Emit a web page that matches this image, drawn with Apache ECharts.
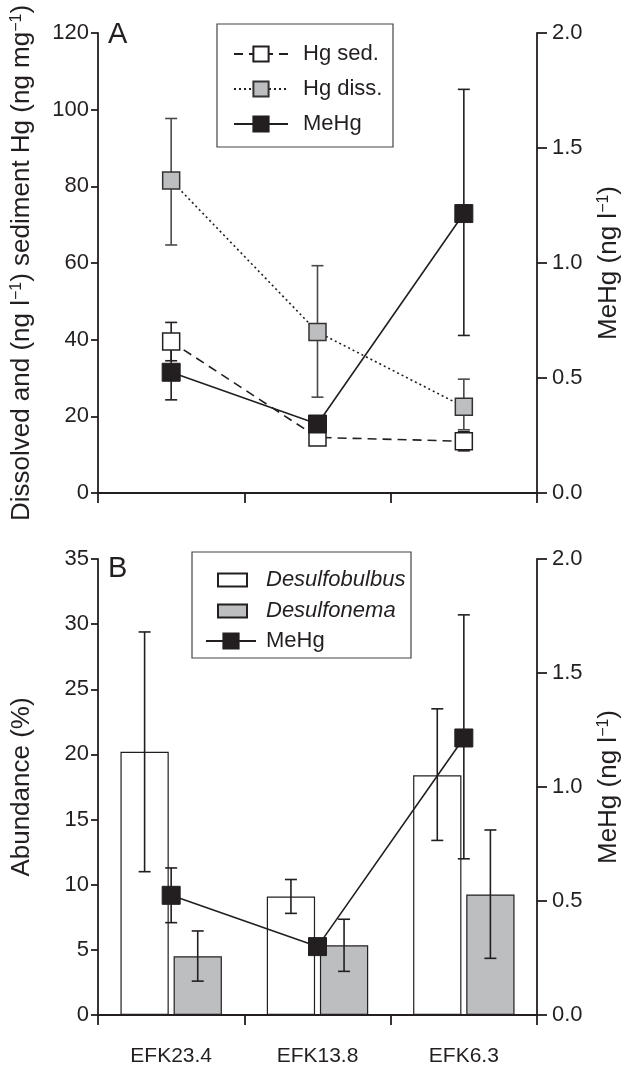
<!DOCTYPE html>
<html>
<head>
<meta charset="utf-8">
<script src="https://cdn.jsdelivr.net/npm/echarts@6/dist/echarts.min.js"></script>
<style>
  html, body { margin: 0; padding: 0; background: #fff; }
  #main { width: 631px; height: 1067px; }
</style>
</head>
<body>
<div id="main"></div>
<script>
// sampling sites (x axis)
var sites = ['EFK23.4', 'EFK13.8', 'EFK6.3'];

// panel A, left axis (Hg)
var hgSed = [39.5, 14.5, 13.5];
var hgSedLow = [34.5, 12.5, 11];
var hgSedHigh = [44.5, 16.5, 16];
var hgDiss = [81.5, 42, 22.5];
var hgDissLow = [64.7, 25, 16.5];
var hgDissHigh = [97.7, 59.3, 29.7];

// MeHg, right axis of both panels
var meHg = [0.525, 0.30, 1.215];
var meHgLow = [0.405, 0.28, 0.685];
var meHgHigh = [0.645, 0.32, 1.755];

// panel B, abundance (%)
var desulfobulbus = [20.2, 9.1, 18.4];
var desulfobulbusLow = [11, 7.8, 13.4];
var desulfobulbusHigh = [29.4, 10.4, 23.5];
var desulfonema = [4.5, 5.35, 9.25];
var desulfonemaLow = [2.6, 3.35, 4.35];
var desulfonemaHigh = [6.45, 7.35, 14.2];

var ink = '#231f20';
var grey = '#bcbec0';
var font = 'Liberation Sans';

var chart = echarts.init(document.getElementById('main'));

// error bars drawn with a custom series, offset = fraction of the band width
function errorSeries(lows, highs, gridIdx, yIdx, offset, color, z) {
    return {
        type: 'custom',
        xAxisIndex: gridIdx,
        yAxisIndex: yIdx,
        z: z,
        silent: true,
        data: sites.map(function (s, i) { return [i, lows[i], highs[i]]; }),
        encode: { x: 0, y: [1, 2] },
        renderItem: function (params, api) {
            var i = api.value(0);
            var lo = api.coord([i, api.value(1)]);
            var hi = api.coord([i, api.value(2)]);
            var band = api.size([1, 0])[0];
            var x = lo[0] + offset * band;
            var half = 6;
            var st = { stroke: color, lineWidth: 1.6 };
            return {
                type: 'group',
                children: [
                    { type: 'line', shape: { x1: x, y1: lo[1], x2: x, y2: hi[1] }, style: st },
                    { type: 'line', shape: { x1: x - half, y1: hi[1], x2: x + half, y2: hi[1] }, style: st },
                    { type: 'line', shape: { x1: x - half, y1: lo[1], x2: x + half, y2: lo[1] }, style: st }
                ]
            };
        }
    };
}

function catAxis(gridIdx, showLabels) {
    return {
        type: 'category',
        gridIndex: gridIdx,
        data: sites,
        boundaryGap: true,
        axisLine: { lineStyle: { color: ink, width: 1.8 } },
        axisTick: { show: true, length: 10, lineStyle: { color: ink, width: 1.8 } },
        axisLabel: { show: showLabels, color: ink, fontSize: 21, fontFamily: font, margin: 31 }
    };
}

function valAxis(gridIdx, pos, max, step, name, gap, digits) {
    return {
        type: 'value',
        gridIndex: gridIdx,
        position: pos,
        min: 0,
        max: max,
        interval: step,
        name: name,
        nameLocation: 'middle',
        nameRotate: 90,
        nameGap: gap,
        nameTextStyle: {
            color: ink, fontSize: 26, fontFamily: font,
            rich: { s: { fontSize: 16, verticalAlign: 'top', color: ink, fontFamily: font } }
        },
        splitLine: { show: false },
        axisLine: { show: true, lineStyle: { color: ink, width: 1.8 } },
        axisTick: { show: true, length: pos === 'left' ? 7 : 10, lineStyle: { color: ink, width: 1.8 } },
        axisLabel: {
            color: ink, fontSize: 22, fontFamily: font,
            margin: pos === 'left' ? 9 : 15,
            formatter: function (v) { return v.toFixed(digits); }
        }
    };
}

var meHgName = 'MeHg (ng l{s|−1})';

var option = {
    backgroundColor: '#fff',
    animation: false,
    textStyle: { fontFamily: font },
    grid: [
        { left: 98, top: 33, width: 439, height: 460 },
        { left: 98, top: 559, width: 439, height: 459 }
    ],
    xAxis: [catAxis(0, false), catAxis(1, true)],
    yAxis: [
        valAxis(0, 'left', 120, 20, 'Dissolved and (ng l{s|−1}) sediment Hg (ng mg{s|−1})', 63, 0),
        valAxis(0, 'right', 2, 0.5, meHgName, 59, 1),
        valAxis(1, 'left', 35, 5, 'Abundance (%)', 63, 0),
        valAxis(1, 'right', 2, 0.5, meHgName, 59, 1)
    ],
    legend: [
        {
            left: 228, top: 38, orient: 'vertical',
            itemWidth: 54, itemHeight: 19, itemGap: 13,
            data: ['Hg sed.', 'Hg diss.', 'MeHg'],
            formatter: '{t|{name}}',
            textStyle: { color: ink, fontSize: 22, fontFamily: font, rich: { t: { padding: [0, 0, 0, 10], fontSize: 22, lineHeight: 22, color: ink } } }
        },
        {
            left: 212, top: 564, orient: 'vertical',
            icon: 'rect', itemWidth: 29, itemHeight: 13, itemGap: 9,
            data: ['Desulfobulbus', 'Desulfonema'],
            formatter: '{t|{name}}',
            textStyle: { color: ink, fontSize: 22, fontFamily: font, rich: { t: { padding: [0, 0, 0, 14], fontSize: 22, lineHeight: 22, fontStyle: 'italic', color: ink } } }
        },
        {
            left: 200, top: 625, orient: 'vertical',
            itemWidth: 50, itemHeight: 19,
            data: ['MeHg'],
            formatter: '{t|{name}}',
            textStyle: { color: ink, fontSize: 22, fontFamily: font, rich: { t: { padding: [0, 0, 0, 5], fontSize: 22, lineHeight: 22, color: ink } } }
        }
    ],
    graphic: [
        { type: 'rect', shape: { x: 217, y: 24, width: 176, height: 123 }, style: { fill: 'none', stroke: '#444', lineWidth: 1.2 }, z: 1 },
        { type: 'rect', shape: { x: 192, y: 552, width: 219, height: 106 }, style: { fill: 'none', stroke: '#444', lineWidth: 1.2 }, z: 1 },
        { type: 'text', left: 108, top: 20, style: { text: 'A', font: '29px "Liberation Sans"', fill: ink } },
        { type: 'text', left: 108, top: 554, style: { text: 'B', font: '29px "Liberation Sans"', fill: ink } }
    ],
    series: [
        // panel A
        errorSeries(hgSedLow, hgSedHigh, 0, 0, 0, ink, 2),
        errorSeries(hgDissLow, hgDissHigh, 0, 0, 0, '#4a4a4a', 2),
        errorSeries(meHgLow, meHgHigh, 0, 1, 0, ink, 2),
        {
            name: 'Hg sed.', type: 'line', xAxisIndex: 0, yAxisIndex: 0, z: 3,
            data: hgSed, symbol: 'rect', symbolSize: 17,
            lineStyle: { color: ink, width: 1.6, type: [9, 6] },
            itemStyle: { color: '#fff', borderColor: ink, borderWidth: 1.5 }
        },
        {
            name: 'Hg diss.', type: 'line', xAxisIndex: 0, yAxisIndex: 0, z: 3,
            data: hgDiss, symbol: 'rect', symbolSize: 17,
            lineStyle: { color: ink, width: 1.6, type: [2, 3] },
            itemStyle: { color: grey, borderColor: '#333', borderWidth: 1.5 }
        },
        {
            name: 'MeHg', type: 'line', xAxisIndex: 0, yAxisIndex: 1, z: 4,
            data: meHg, symbol: 'rect', symbolSize: 18,
            lineStyle: { color: ink, width: 1.6 },
            itemStyle: { color: ink, borderColor: ink, borderWidth: 1 }
        },
        // panel B
        {
            name: 'Desulfobulbus', type: 'bar', xAxisIndex: 1, yAxisIndex: 2, z: 2,
            data: desulfobulbus, barWidth: '33%', barGap: '10%',
            itemStyle: { color: '#fff', borderColor: ink, borderWidth: 1.2 }
        },
        {
            name: 'Desulfonema', type: 'bar', xAxisIndex: 1, yAxisIndex: 2, z: 2,
            data: desulfonema, barWidth: '33%', barGap: '10%',
            itemStyle: { color: grey, borderColor: ink, borderWidth: 1.2 }
        },
        errorSeries(desulfobulbusLow, desulfobulbusHigh, 1, 2, -0.1815, ink, 3),
        errorSeries(desulfonemaLow, desulfonemaHigh, 1, 2, 0.1815, ink, 3),
        errorSeries(meHgLow, meHgHigh, 1, 3, 0, ink, 4),
        {
            name: 'MeHg', type: 'line', xAxisIndex: 1, yAxisIndex: 3, z: 5,
            data: meHg, symbol: 'rect', symbolSize: 18,
            lineStyle: { color: ink, width: 1.6 },
            itemStyle: { color: ink, borderColor: ink, borderWidth: 1 }
        }
    ]
};

chart.setOption(option);
</script>
</body>
</html>
